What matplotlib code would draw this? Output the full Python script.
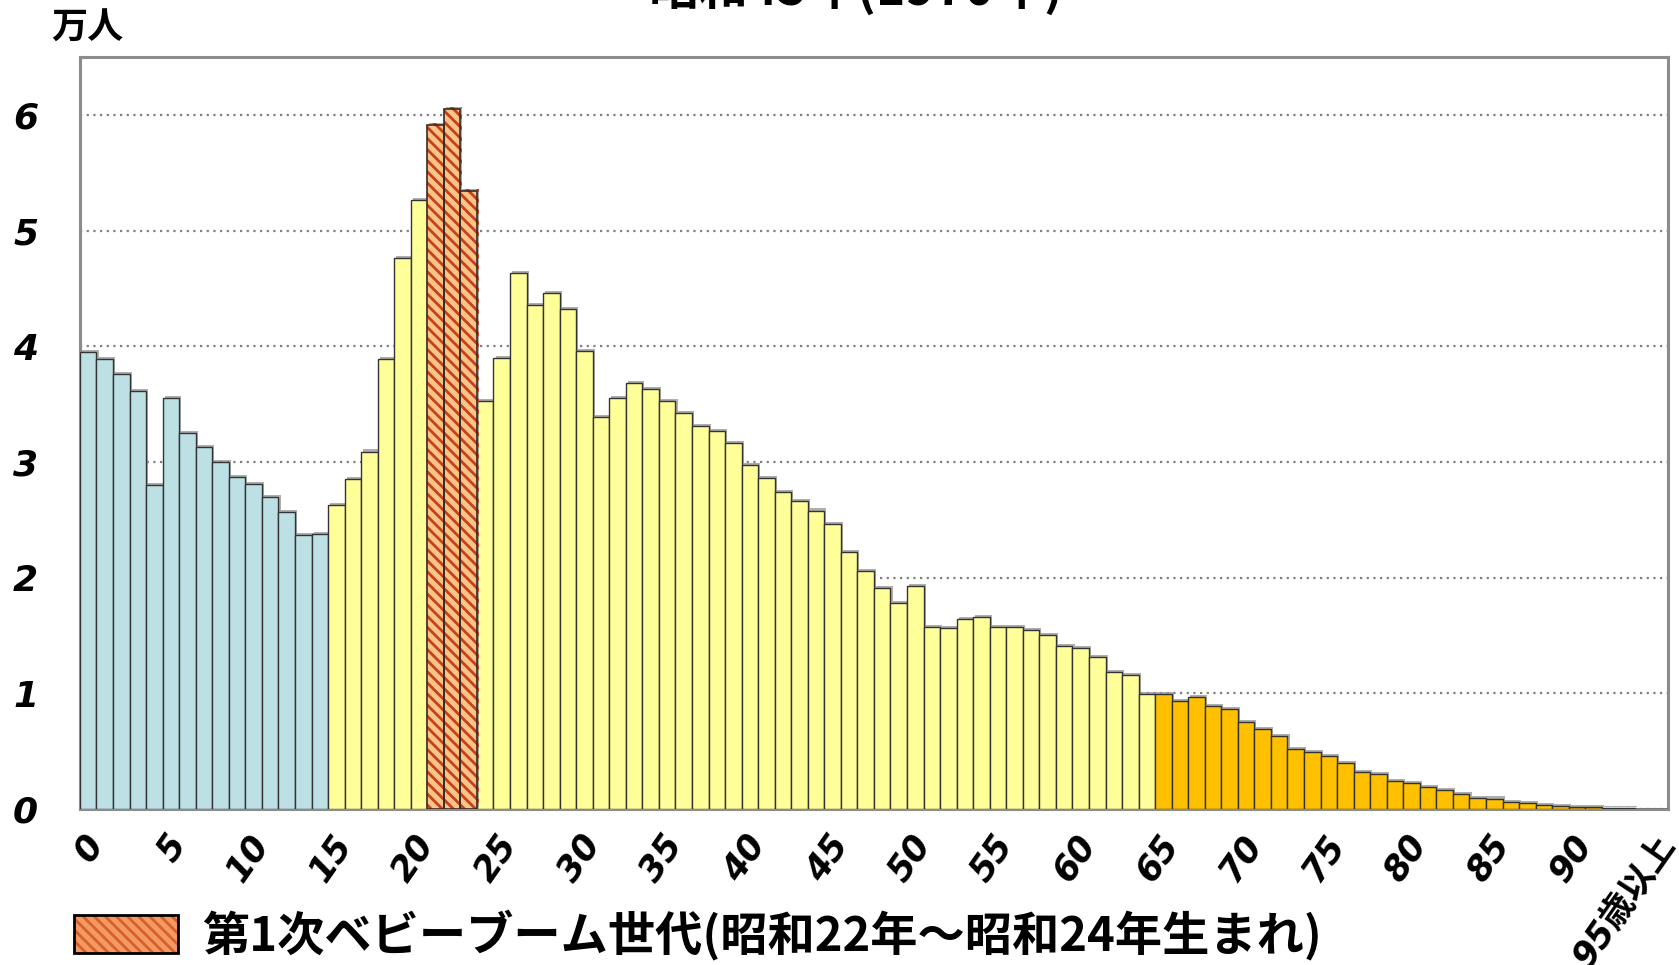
import matplotlib
matplotlib.use('Agg')
import matplotlib.pyplot as plt
import matplotlib.patheffects as pe
from matplotlib.patches import Patch
import numpy as np

### Plot settings
plt.rcParams['font.family'] = ['DejaVu Sans', 'Noto Sans CJK JP']
plt.rcParams['hatch.linewidth'] = 2.0

# data: population by single year of age, 1970 (unit: 10,000 people)
ages = list(range(96))
pop = [3.95, 3.89, 3.76, 3.61, 2.80, 3.55, 3.25, 3.13, 3.00, 2.87,
       2.81, 2.70, 2.57, 2.37, 2.38, 2.63, 2.85, 3.09, 3.89, 4.76,
       5.26, 5.91, 6.05, 5.34, 3.53, 3.90, 4.63, 4.36, 4.46, 4.32,
       3.96, 3.39, 3.55, 3.68, 3.63, 3.53, 3.42, 3.31, 3.27, 3.16,
       2.97, 2.86, 2.74, 2.66, 2.58, 2.46, 2.22, 2.06, 1.91, 1.78,
       1.93, 1.57, 1.56, 1.64, 1.66, 1.57, 1.57, 1.55, 1.50, 1.41,
       1.39, 1.31, 1.18, 1.16, 0.99, 0.99, 0.93, 0.97, 0.89, 0.86,
       0.75, 0.69, 0.63, 0.52, 0.49, 0.46, 0.40, 0.32, 0.30, 0.245,
       0.225, 0.19, 0.16, 0.13, 0.095, 0.09, 0.063, 0.05, 0.037, 0.023,
       0.02, 0.014, 0.01, 0.006, 0.003, 0.002]
child_ages = range(0, 15)
elder_ages = range(65, 96)
boom_ages = [21, 22, 23]
tick_ages = list(range(0, 96, 5))
tick_labels = [str(a) for a in range(0, 95, 5)] + ['95歳以上']
yticks = [0, 1, 2, 3, 4, 5, 6]

title = '昭和45年(1970年)'
unit = '万人'
legend_label = '第1次ベビーブーム世代(昭和22年～昭和24年生まれ)'

c_child = '#BCE0E4'
c_work = '#FFFF99'
c_elder = '#FFC000'
c_boom_face = '#F9C48A'
c_boom_hatch = '#C8401A'

colors = []
for a in ages:
    if a in child_ages:
        colors.append(c_child)
    elif a in elder_ages:
        colors.append(c_elder)
    else:
        colors.append(c_work)

fig = plt.figure(figsize=(16.79, 9.65), dpi=100)
ax = fig.add_axes([0.0476, 0.1617, 0.9458, 0.7792])

shadow = [pe.SimplePatchShadow(offset=(1.5, 1.5), shadow_rgbFace='#9a9a9a', alpha=0.8), pe.Normal()]

x = np.array(ages)
vals = np.array(pop)
normal = np.array([a not in boom_ages for a in ages])
bars = ax.bar(x[normal], vals[normal], width=1.0, align='edge',
              color=[c for c, n in zip(colors, normal) if n],
              edgecolor='#333333', linewidth=1.0, zorder=3)
for b in bars:
    b.set_path_effects(shadow)

boom = ~normal
# hatched fill for the baby boom generation, then outline on top
hb = ax.bar(x[boom], vals[boom], width=1.0, align='edge', color=c_boom_face,
            edgecolor=c_boom_hatch, hatch='\\\\\\', linewidth=0, zorder=3)
for b in hb:
    b.set_path_effects(shadow)
ax.bar(x[boom], vals[boom], width=1.0, align='edge', fill=False,
       edgecolor='#3a2a20', linewidth=1.2, zorder=4)

ax.set_xlim(0, 96)
ax.set_ylim(0, 6.5)
ax.set_yticks(yticks)
ax.set_yticklabels([str(v) for v in yticks], fontsize=26, fontweight='bold', style='oblique')
ax.tick_params(axis='y', length=0, pad=30)
ax.set_xticks(np.array(tick_ages) + 0.15)
ax.set_xticklabels(tick_labels, fontsize=25, fontweight='bold', style='oblique',
                   rotation=55, ha='right', va='top', rotation_mode='anchor')
ax.tick_params(axis='x', length=0, pad=14)

ax.yaxis.grid(True, color='#808080', linestyle=(0, (1, 2)), linewidth=1.6)
ax.set_axisbelow(True)
for s in ax.spines.values():
    s.set_color('#8c8c8c')
    s.set_linewidth(2.2)

fig.text(0.052, 0.971, unit, fontsize=26, fontweight='bold', ha='center', va='center',
         family=['Noto Sans CJK JP', 'DejaVu Sans'])
fig.text(0.51, 0.984, title, fontsize=36, fontweight='bold', ha='center', va='bottom',
         family=['Noto Sans CJK JP', 'DejaVu Sans'])

h_fill = Patch(facecolor='#F29A62', edgecolor='#D8602E', hatch='\\\\\\', linewidth=0)
h_edge = Patch(fill=False, edgecolor='black', linewidth=2)
fig.legend(handles=[(h_fill, h_edge)], labels=[legend_label], loc='center left',
           bbox_to_anchor=(0.033, 0.031), frameon=False, handlelength=2.2, handleheight=0.85,
           handletextpad=0.5, borderaxespad=0,
           prop={'family': ['Noto Sans CJK JP', 'DejaVu Sans'], 'size': 34, 'weight': 'bold'})

fig.savefig('out.png', dpi=100)
